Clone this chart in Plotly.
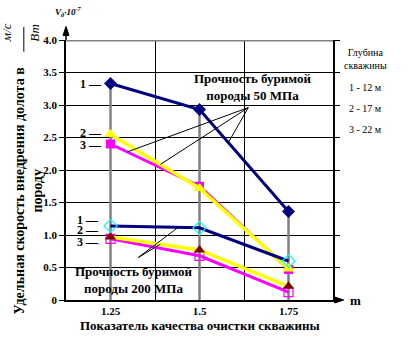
import plotly.graph_objects as go

# Cleaning-quality index (x) and specific penetration rate, 10^-7 (m/s)/W
quality = [1.25, 1.5, 1.75]

# Rock strength 50 MPa, well depths 12 / 17 / 22 m
rate_50_d12 = [3.33, 2.93, 1.36]
rate_50_d17 = [2.55, 1.72, 0.48]
rate_50_d22 = [2.40, 1.75, 0.47]

# Rock strength 200 MPa, well depths 12 / 17 / 22 m
rate_200_d12 = [1.14, 1.11, 0.60]
rate_200_d17 = [0.97, 0.77, 0.21]
rate_200_d22 = [0.94, 0.68, 0.12]

y_ticks = [0, 0.5, 1.0, 1.5, 2.0, 2.5, 3.0, 3.5, 4.0]
y_tick_text = ["0", "0.5", "1.0", "1.5", "2.0", "2.5", "3.0", "3.5", "4.0"]
x_tick_text = ["1.25", "1.5", "1.75"]

SERIF = "Liberation Serif, Times New Roman, serif"
NAVY, YELLOW, MAGENTA = "#000080", "#FFFF00", "#FF00FF"
CYAN, MAROON, GREY = "#00FFFF", "#800000", "#808080"

all_series = [rate_50_d12, rate_50_d17, rate_50_d22,
              rate_200_d12, rate_200_d17, rate_200_d22]

fig = go.Figure()

# grey drop lines from the highest value at each x down to zero
for i, q in enumerate(quality):
    top = max(s[i] for s in all_series)
    fig.add_trace(go.Scatter(x=[q, q], y=[0, top], mode="lines",
                             line=dict(color=GREY, width=2.5),
                             hoverinfo="skip", showlegend=False))


def series(y, line_color, line_width, symbol, m_color, m_size, m_line=None):
    marker = dict(symbol=symbol, color=m_color, size=m_size)
    if m_line:
        marker["line"] = dict(color=m_line, width=1.2)
    else:
        marker["line"] = dict(width=0)
    fig.add_trace(go.Scatter(x=quality, y=y, mode="lines+markers",
                             line=dict(color=line_color, width=line_width),
                             marker=marker, showlegend=False))


series(rate_50_d22, MAGENTA, 3, "square", MAGENTA, 9)
series(rate_50_d17, YELLOW, 3.5, "triangle-up", YELLOW, 11)
series(rate_50_d12, NAVY, 3, "diamond", NAVY, 10)

series(rate_200_d22, MAGENTA, 3, "square-open", MAGENTA, 9, MAGENTA)
series(rate_200_d17, YELLOW, 3.5, "triangle-up", MAROON, 10)
series(rate_200_d12, NAVY, 3, "diamond-open", CYAN, 10, CYAN)


def on_segment(xs, ys, xq):
    # linear position on a polyline at abscissa xq
    for k in range(len(xs) - 1):
        if xs[k] <= xq <= xs[k + 1]:
            t = (xq - xs[k]) / (xs[k + 1] - xs[k])
            return ys[k] + t * (ys[k + 1] - ys[k])
    return ys[-1]


# callout leader lines
def leaders(hub, targets):
    for s, xq in targets:
        fig.add_shape(type="line", x0=hub[0], y0=hub[1],
                      x1=xq, y1=on_segment(quality, s, xq),
                      line=dict(color="black", width=1))


leaders((1.637, 2.96), [(rate_50_d22, 1.297), (rate_50_d17, 1.39),
                        (rate_50_d12, 1.581)])
leaders((1.328, 0.654), [(rate_200_d12, 1.44), (rate_200_d17, 1.39)])

# grey top border
fig.add_shape(type="line", xref="paper", x0=0, x1=1, y0=4, y1=4,
              line=dict(color=GREY, width=3))

# axis arrowheads (paper units: 1 px = 1/267.5 in x, 1/260 in y)
PX, PY = 1 / 267.5, 1 / 260
fig.add_shape(type="line", xref="paper", yref="paper", x0=0, x1=0,
              y0=1, y1=1.045, line=dict(color="black", width=1.5))
fig.add_shape(type="path", xref="paper", yref="paper",
              path=f"M {-3*PX},{1.052-9*PY} L 0,1.052 L {3*PX},{1.052-9*PY} Z",
              fillcolor="black", line=dict(color="black", width=1))
fig.add_shape(type="line", xref="paper", yref="paper", x0=1, x1=1.03,
              y0=0, y1=0, line=dict(color="black", width=1.5))
fig.add_shape(type="path", xref="paper", yref="paper",
              path=f"M {1.04-9*PX},{3*PY} L 1.04,0 L {1.04-9*PX},{-3*PY} Z",
              fillcolor="black", line=dict(color="black", width=1))

# fraction bar of the unit
fig.add_shape(type="line", xref="paper", yref="paper", x0=-0.158, x1=-0.158,
              y0=0.955, y1=1.05, line=dict(color="black", width=1))

annotations = []


def note(text, x, y, size=13, xref="x", yref="y", xanchor="center",
         yanchor="middle", angle=0, weight="bold", style="normal",
         xshift=0, yshift=0, align="center"):
    annotations.append(dict(text=text, x=x, y=y, xref=xref, yref=yref,
                            xanchor=xanchor, yanchor=yanchor, textangle=angle,
                            showarrow=False, xshift=xshift, yshift=yshift,
                            align=align,
                            font=dict(family=SERIF, size=size, color="black",
                                      weight=weight, style=style)))


# depth markers next to the first points
note("1 —", quality[0], rate_50_d12[0], size=12, xanchor="right", xshift=-7)
note("2 —", quality[0], rate_50_d17[0], size=12, xanchor="right", xshift=-7,
     yshift=1)
note("3 —", quality[0], rate_50_d22[0], size=12, xanchor="right", xshift=-7,
     yshift=-1)
note("1 —", quality[0], rate_200_d12[0], size=12, xanchor="right",
     xshift=-10, yshift=6)
note("2 —", quality[0], rate_200_d17[0], size=12, xanchor="right",
     xshift=-10, yshift=7)
note("3 —", quality[0], rate_200_d22[0], size=12, xanchor="right",
     xshift=-10, yshift=-3)

note("Прочность буримой<br>породы 50 МПа", 1.651, 3.28)
note("Прочность буримой<br>породы 200 МПа", 1.317, 0.31)

# depth key on the right
note("Глубина<br>скважины", 1.12, 0.925, xref="paper", yref="paper",
     size=10, weight="normal")
note("1 - 12 м", 1.12, 0.817, xref="paper", yref="paper", size=10,
     weight="normal")
note("2 - 17 м", 1.12, 0.735, xref="paper", yref="paper", size=10,
     weight="normal")
note("3 - 22 м", 1.12, 0.654, xref="paper", yref="paper", size=10,
     weight="normal")

# axis titles and units
note("Удельная скорость внедрения долота в<br>породу", -0.14, 0.42,
     xref="paper", yref="paper", angle=-90, size=14)
note("Показатель качества очистки скважины", 0.5, -0.098,
     xref="paper", yref="paper")
note("m", 1.085, 0.0, xref="paper", yref="paper", size=13)
note("м/с", -0.225, 1.03, xref="paper", yref="paper", angle=-90,
     style="italic", weight="normal", size=13)
note("Вт", -0.118, 1.03, xref="paper", yref="paper", angle=-90,
     style="italic", weight="normal", size=13)
note("V<sub>д</sub>·10<sup>-7</sup>", -0.05, 1.11, xref="paper",
     yref="paper", size=9, style="italic", xanchor="left")

fig.update_layout(
    width=413, height=337,
    margin=dict(l=66, r=80, t=40, b=37),
    paper_bgcolor="white", plot_bgcolor="white",
    annotations=annotations,
    xaxis=dict(range=[1.125, 1.875], tickvals=quality, ticktext=x_tick_text,
               showgrid=False, zeroline=False, showline=True,
               linecolor="black", linewidth=1.5, ticks="",
               minor=dict(tick0=1.125, dtick=0.25, showgrid=True,
                          gridcolor="black", gridwidth=1, ticks=""),
               tickfont=dict(family=SERIF, size=11, color="black",
                             weight="bold")),
    yaxis=dict(range=[0, 4], tickvals=y_ticks, ticktext=y_tick_text,
               showgrid=True, gridcolor="black", gridwidth=1,
               zeroline=False, showline=True, linecolor="black",
               linewidth=1.5, mirror="ticks", ticks="outside", ticklen=5,
               tickcolor="black",
               tickfont=dict(family=SERIF, size=11, color="black",
                             weight="bold")),
)

fig.write_html("out.html")
